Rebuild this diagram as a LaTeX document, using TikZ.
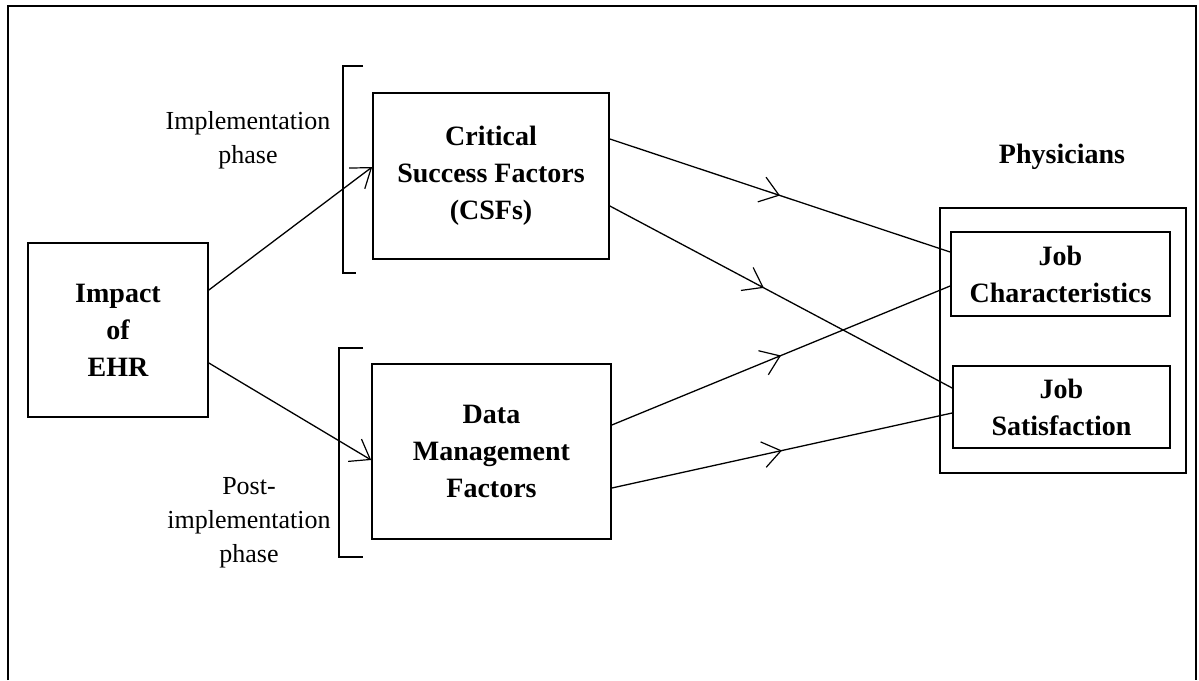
\documentclass[tikz,border=0pt]{standalone}
\usepackage{fontspec}
\setmainfont{Liberation Serif}
\usetikzlibrary{arrows.meta,decorations.markings}
\tikzset{every path/.style={black,line width=1.3pt}, every node/.style={inner sep=0pt, align=center}}
\tikzset{factorbox/.style={draw,line width=1.7pt,font=\fontsize{28}{37}\selectfont\bfseries},
 phasetext/.style={font=\fontsize{26}{34}\selectfont},
 headtext/.style={font=\fontsize{28}{37}\selectfont\bfseries},
 barb/.tip={Straight Barb[length=18pt,width=26pt,line width=1.2pt]},
 midarrow/.style={postaction={decorate},decoration={markings,mark=at position #1 with {\arrow{barb}}}},
 midarrow/.default=0.5}

\begin{document}
\begin{tikzpicture}[x=1pt,y=-1pt]
   \useasboundingbox (0,0) rectangle (1199,680);
   \draw[line width=1.6pt] (8,680) -- (8,6) -- (1196,6) -- (1196,680);
   \node[factorbox, minimum width=180pt, minimum height=174pt] (imp) at (118,330) {Impact\\of\\EHR};
   \begin{scope}
    \node[factorbox, minimum width=236pt, minimum height=166pt] (csf) at (491,176) {Critical\\Success Factors\\(CSFs)};
    \draw[line width=1.6pt] (363,66) -- (343,66) -- (343,273) -- (356,273);
    \node[phasetext] (impl) at (248,140) {Implementation\\phase};
   \end{scope}
   \begin{scope}
    \node[factorbox, minimum width=239pt, minimum height=175pt] (dmf) at (491.5,451.5) {Data\\Management\\Factors};
    \draw[line width=1.6pt] (363,348) -- (339,348) -- (339,557) -- (363,557);
    \node[phasetext] (post) at (249,523) {Post-\\implementation\\phase};
   \end{scope}
   \begin{scope}
    \node[draw, line width=1.6pt, minimum width=246pt, minimum height=265pt] (phys) at (1063,340.5) {};
    \node[headtext] (physlabel) at (1062,157) {Physicians};
    \node[factorbox, minimum width=219pt, minimum height=84pt] (jc) at (1060.5,274) {Job\\Characteristics};
    \node[factorbox, minimum width=217pt, minimum height=82pt] (js) at (1061.5,407) {Job\\Satisfaction};
   \end{scope}
   \draw[-barb] ([yshift=40pt]imp.east) -- ([yshift=9pt]csf.west);
   \draw[-barb] ([yshift=-33pt]imp.east) -- ([yshift=-8.5pt]dmf.west);
   \draw[midarrow] ([yshift=37pt]csf.east) -- ([yshift=22pt]jc.west);
   \draw[midarrow=0.45] ([yshift=-30pt]csf.east) -- ([yshift=19pt]js.west);
   \draw[midarrow] ([yshift=26.5pt]dmf.east) -- ([yshift=-12pt]jc.west);
   \draw[midarrow] ([yshift=-36.5pt]dmf.east) -- ([yshift=-6pt]js.west);
  \end{tikzpicture}
\end{document}
